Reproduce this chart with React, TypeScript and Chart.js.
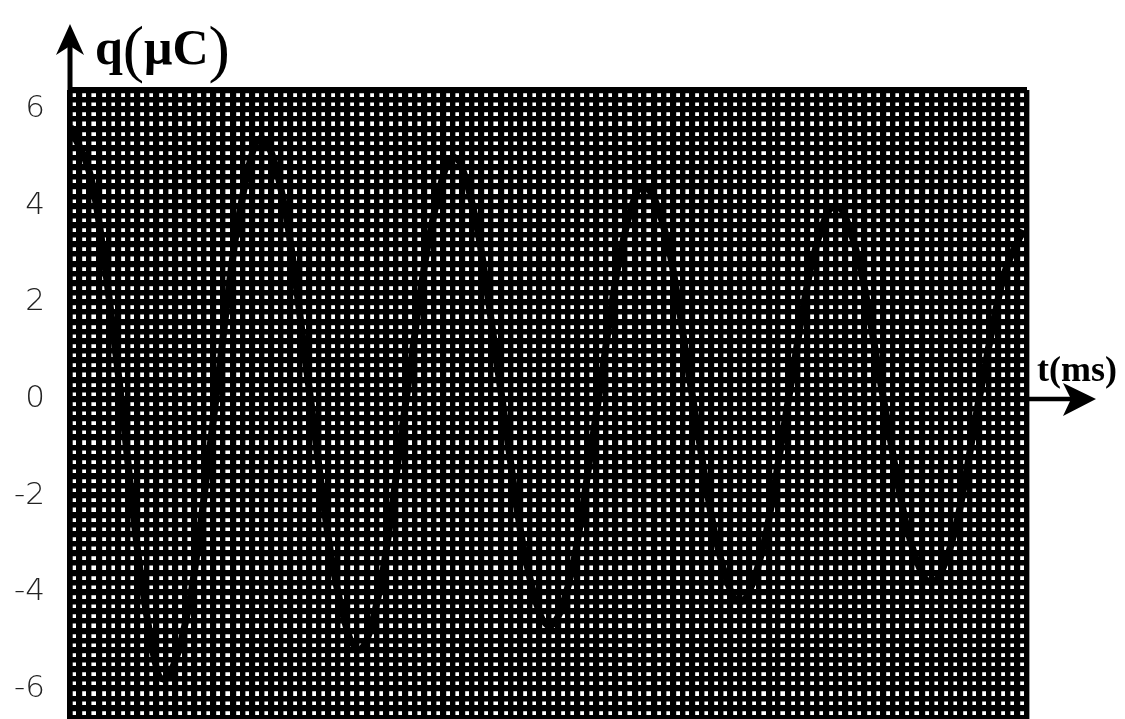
import { useEffect, useRef } from "react";
import { Chart, registerables } from "chart.js";

Chart.register(...registerables);

// Charge q (µC) sampled along time t (ms)
const timeMs = [
  0, 2.5, 5, 7.5, 9.7, 12.5, 15, 17.5, 20, 22.5, 25, 27.5, 30.2, 32.5, 35, 37.5,
  40.1, 42.5, 45, 47.5, 50.1, 52.5, 55, 57.5, 59.9, 62.5, 65, 67.5, 70, 72.5, 75,
  77.5, 80, 82.5, 85, 87.5, 90, 92.5, 95, 97.5, 99.6,
];
const chargeMicroC = [
  5.65, 4.3, 0.6, -3.8, -5.8, -4.2, -0.4, 3.6, 5.4, 3.9, 0.2, -3.5, -5.2, -3.8, -0.2, 3.3,
  5.0, 3.6, 0.2, -3.2, -4.7, -3.5, -0.3, 3.0, 4.4, 3.2, 0.1, -2.9, -4.2, -3.0, -0.1,
  2.8, 4.0, 2.8, 0.0, -2.7, -3.8, -2.7, 0.0, 2.5, 3.5,
];

// Labelled values on the charge axis
const yTickLabels = [6, 4, 2, 0, -2, -4, -6];

// Axis ranges and the spacing of the fine grid
const T_MIN = 0;
const T_MAX = 100;
const T_GRID_STEP = 1;
const Q_MIN = -6.63;
const Q_MAX = 6.4;
const Q_GRID_STEP = 0.2;

const SERIF = '"Liberation Serif", "DejaVu Serif", serif';
const SANS = '"DejaVu Sans", "Liberation Sans", sans-serif';

function gridValues(min: number, max: number, step: number) {
  const out: { value: number }[] = [];
  const start = Math.ceil(min / step - 1e-9);
  const end = Math.floor(max / step + 1e-9);
  for (let i = start; i <= end; i++) out.push({ value: Math.round(i * step * 1000) / 1000 });
  return out;
}

// Draws the arrowed axes through the origin and their titles
const arrowAxes = {
  id: "arrowAxes",
  afterDraw(chart: any) {
    const { ctx, chartArea, scales } = chart;
    const x0 = chartArea.left;
    const y0 = scales.y.getPixelForValue(0);
    ctx.save();
    ctx.fillStyle = "#000";
    ctx.strokeStyle = "#000";

    // vertical axis with arrowhead
    ctx.lineWidth = 5;
    ctx.beginPath();
    ctx.moveTo(x0, chart.height);
    ctx.lineTo(x0, 45);
    ctx.stroke();
    ctx.beginPath();
    ctx.moveTo(x0, 24);
    ctx.lineTo(x0 + 14, 55);
    ctx.lineTo(x0, 46);
    ctx.lineTo(x0 - 14, 55);
    ctx.closePath();
    ctx.fill();

    // horizontal axis with arrowhead
    ctx.lineWidth = 4.5;
    ctx.beginPath();
    ctx.moveTo(x0, y0);
    ctx.lineTo(1075, y0);
    ctx.stroke();
    ctx.beginPath();
    ctx.moveTo(1096, y0);
    ctx.lineTo(1063, y0 - 16);
    ctx.lineTo(1071, y0);
    ctx.lineTo(1063, y0 + 17);
    ctx.closePath();
    ctx.fill();

    // title of the charge axis: q(µC)
    ctx.textBaseline = "alphabetic";
    ctx.textAlign = "left";
    let x = 95;
    const letters = `bold 50px ${SERIF}`;
    const parens = `64px ${SERIF}`;
    const parts: [string, string, number][] = [
      ["q", letters, 64],
      ["(", parens, 70],
      ["\u03bc", letters, 64],
      ["C", letters, 64],
      [")", parens, 70],
    ];
    for (const [txt, font, base] of parts) {
      ctx.font = font;
      ctx.fillText(txt, x, base);
      x += ctx.measureText(txt).width;
    }

    // title of the time axis: t(ms)
    ctx.font = `bold 36px ${SERIF}`;
    ctx.fillText("t(ms)", 1037, 381);
    ctx.restore();
  },
};

export default function App() {
  const canvasRef = useRef<HTMLCanvasElement | null>(null);

  useEffect(() => {
    const canvas = canvasRef.current;
    if (!canvas) return;

    const gridWidth = (ctx: any) => (ctx.index % 2 === 0 ? 5.4 : 6.2);

    const chart = new Chart(canvas, {
      type: "line",
      data: {
        datasets: [
          {
            data: timeMs.map((t, i) => ({ x: t, y: chargeMicroC[i] })),
            borderColor: "#000",
            borderWidth: 7,
            pointRadius: 0,
            cubicInterpolationMode: "monotone",
            fill: false,
          },
        ],
      },
      plugins: [arrowAxes],
      options: {
        responsive: false,
        animation: false,
        events: [],
        layout: { padding: { top: 90, right: 98, bottom: 0, left: 0 } },
        plugins: {
          legend: { display: false },
          tooltip: { enabled: false },
        },
        scales: {
          x: {
            type: "linear",
            min: T_MIN,
            max: T_MAX,
            border: { display: false },
            grid: { color: "#000", lineWidth: gridWidth, drawTicks: false },
            ticks: { display: false, autoSkip: false },
            afterBuildTicks: (scale: any) => {
              scale.ticks = gridValues(T_MIN, T_MAX, T_GRID_STEP);
            },
            afterFit: (scale: any) => {
              scale.height = 0;
              scale.paddingLeft = 0;
              scale.paddingRight = 0;
            },
          },
          y: {
            type: "linear",
            min: Q_MIN,
            max: Q_MAX,
            border: { display: false },
            grid: { color: "#000", lineWidth: gridWidth, drawTicks: false },
            ticks: {
              autoSkip: false,
              padding: 25,
              color: "#222",
              font: { family: SANS, size: 31, weight: 200 as any },
              callback: (v: any) => {
                const n = Number(v);
                const hit = yTickLabels.find((l) => Math.abs(l - n) < 1e-6);
                return hit === undefined ? "" : String(hit);
              },
            },
            afterBuildTicks: (scale: any) => {
              scale.ticks = gridValues(Q_MIN, Q_MAX, Q_GRID_STEP);
            },
            afterFit: (scale: any) => {
              scale.width = 70;
              scale.paddingTop = 0;
              scale.paddingBottom = 0;
            },
          },
        },
      },
    } as any);

    return () => chart.destroy();
  }, []);

  return (
    <div style={{ position: "fixed", left: 0, top: 0, width: 1125, height: 719, background: "#fff" }}>
      <canvas ref={canvasRef} width={1125} height={719} style={{ display: "block" }} />
    </div>
  );
}
